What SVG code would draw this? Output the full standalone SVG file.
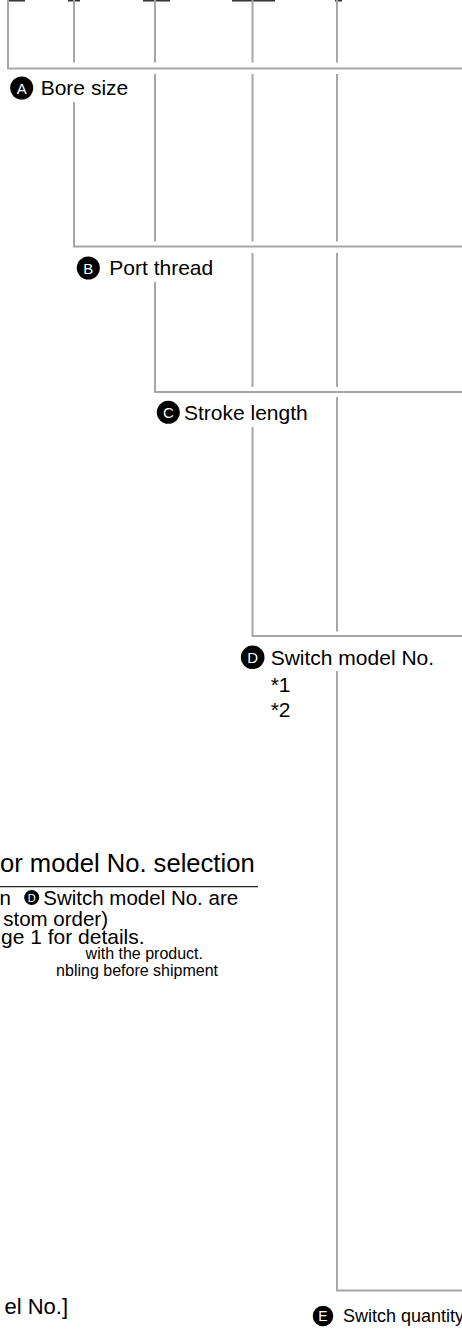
<svg xmlns="http://www.w3.org/2000/svg" width="462" height="1330" viewBox="0 0 462 1330">
<style>
.ln{stroke:#a6a6a6;stroke-width:2;fill:none}
.br{stroke:#333;stroke-width:1.6;fill:none}
.t{font-family:"Liberation Sans",Arial,sans-serif;fill:#000}
.lab{font-size:21px}
.bd{fill:#000}
.bl{font-family:"Liberation Sans",Arial,sans-serif;fill:#fff;font-size:15px;text-anchor:middle}
</style>
<rect width="462" height="1330" fill="#fff"/>
<g id="connectors">
  <path class="br" d="M8 0.8H25M68 0.8H80M143 0.8H170M232 0.8H275M335 0.8H342"/>
  <path class="ln" d="M8 0V68.5H462"/>
  <path class="ln" d="M74 0V62.5M74 102V246.5H462"/>
  <path class="ln" d="M155 0V62.5M155 74V241.5M155 282V392H462"/>
  <path class="ln" d="M252.5 0V62.5M252.5 74V241.5M252.5 253V387M252.5 427V636H462"/>
  <path class="ln" d="M337 0V62.5M337 74V241.5M337 253V387M337 397V631.5M337 671V1290.5H462"/>
</g>
<g id="labelA">
  <circle class="bd" cx="21.7" cy="88" r="11.5"/>
  <text class="bl" x="21.7" y="93.5">A</text>
  <text class="t lab" x="40.7" y="95">Bore size</text>
</g>
<g id="labelB">
  <circle class="bd" cx="88.3" cy="268" r="11.5"/>
  <text class="bl" x="88.3" y="273.5">B</text>
  <text class="t lab" x="109.3" y="274.5">Port thread</text>
</g>
<g id="labelC">
  <circle class="bd" cx="168.3" cy="412.3" r="11.5"/>
  <text class="bl" x="168.3" y="417.8">C</text>
  <text class="t lab" x="184" y="419.5">Stroke length</text>
</g>
<g id="labelD">
  <circle class="bd" cx="252.7" cy="657.3" r="11.8"/>
  <text class="bl" x="252.7" y="662.8">D</text>
  <text class="t lab" x="270.7" y="664.5">Switch model No.</text>
  <text class="t lab" x="270.7" y="692">*1</text>
  <text class="t lab" x="270.7" y="717">*2</text>
</g>
<g id="labelE">
  <circle class="bd" cx="323" cy="1316" r="10.3"/>
  <text class="bl" x="323" y="1321" style="font-size:14px">E</text>
  <text class="t" x="343" y="1322" style="font-size:18px">Switch quantity</text>
</g>
<g id="notes">
  <text class="t" x="0" y="871.5" style="font-size:25.6px">or model No. selection</text>
  <line x1="0" y1="886.7" x2="258" y2="886.7" stroke="#222" stroke-width="1.3"/>
  <text class="t" x="11" y="905" text-anchor="end" style="font-size:20.5px">n</text>
  <circle class="bd" cx="31.7" cy="897.5" r="7.5"/>
  <text class="bl" x="31.7" y="901.5" style="font-size:11px">D</text>
  <text class="t" x="43.3" y="905" style="font-size:20.5px">Switch model No. are</text>
  <text class="t" x="108" y="925.5" text-anchor="end" style="font-size:20.5px">stom order)</text>
  <text class="t" x="1" y="944" style="font-size:21px">ge 1 for details.</text>
  <text class="t" x="203" y="959" text-anchor="end" style="font-size:16px">with the product.</text>
  <text class="t" x="218" y="976" text-anchor="end" style="font-size:16px">nbling before shipment</text>
  <text class="t" x="68" y="1313.5" text-anchor="end" style="font-size:22px">el No.]</text>
</g>
</svg>
